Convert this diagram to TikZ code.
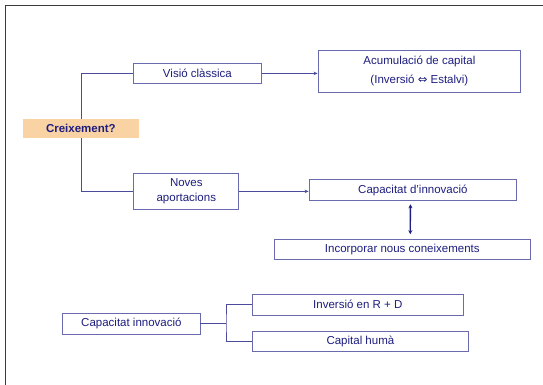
\documentclass[tikz,border=0pt]{standalone}
\usepackage{fontspec}
\setmainfont{Liberation Sans}
\newfontfamily\symfont{DejaVu Sans}
\usetikzlibrary{arrows.meta}
\definecolor{txtblue}{HTML}{1E1E80}
\definecolor{boxline}{HTML}{6A6AAE}
\definecolor{conline}{HTML}{4B4B9E}
\definecolor{crfill}{HTML}{FAD3A4}
\definecolor{framegray}{HTML}{3A3A3A}
\tikzset{
  box/.style={draw=boxline, line width=0.9pt, inner sep=0pt, align=center,
    text=txtblue, font=\fontsize{11.5}{16}\selectfont},
  con/.style={draw=conline, line width=0.8pt},
  arr/.style={con, -{Stealth[length=4pt,width=3.5pt]}},
}
\begin{document}
\begin{tikzpicture}[x=1pt,y=-1pt]
\useasboundingbox (0,0) rectangle (543,385);
\fill[white] (0,0) rectangle (543,385);
\draw[framegray, line width=1.8pt] (5.5,385) -- (5.5,5.5) -- (543,5.5);

\node[box, fill=crfill, draw=crfill, font=\fontsize{11.5}{14}\selectfont\bfseries, minimum width=114.6pt, minimum height=18pt] (crx) at (80.9,128.5) {Creixement?};
\node[box, minimum width=127.3pt, minimum height=20.5pt] (vis) at (197.4,73.4) {Visió clàssica};
\node[box, minimum width=202.8pt, minimum height=41.7pt] (acu) at (419.4,71.2) {Acumulació de capital\\[3pt](Inversió {\symfont ⇔} Estalvi)};
\node[box, minimum width=105.2pt, minimum height=35.4pt, font=\fontsize{11.5}{15}\selectfont] (nov) at (186.3,191.4) {Noves\\aportacions};
\node[box, minimum width=207.7pt, minimum height=20.5pt] (cap) at (412.9,190.1) {Capacitat d’innovació};
\node[box, minimum width=255.9pt, minimum height=20.1pt] (inc) at (402.3,249.7) {Incorporar nous coneixements};
\node[box, minimum width=137.2pt, minimum height=20.9pt] (cin) at (131.4,323.5) {Capacitat innovació};
\node[box, minimum width=211.5pt, minimum height=20.8pt] (ird) at (357.8,304.7) {Inversió en R + D};
\node[box, minimum width=216.8pt, minimum height=20.4pt] (chu) at (360.4,341.7) {Capital humà};

\coordinate (jx) at (226,0);
\draw[con] (crx.north) |- (vis.west);
\draw[con] (crx.south) |- (nov.west);
\draw[arr] (vis.east) -- (vis.east -| acu.west);
\draw[arr] (nov.east) -- (nov.east -| cap.west);
\draw[draw=txtblue, line width=1.3pt, {Stealth[length=4pt,width=4pt]}-{Stealth[length=4pt,width=4pt]}] ([xshift=-2.5pt,yshift=-3.5pt]cap.south) -- ([xshift=8pt,yshift=5pt]inc.north);
\draw[con] (cin.east) -- (cin.east -| jx);
\draw[con] (ird.west) -| (jx |- cin.east) |- (chu.west);
\end{tikzpicture}
\end{document}
